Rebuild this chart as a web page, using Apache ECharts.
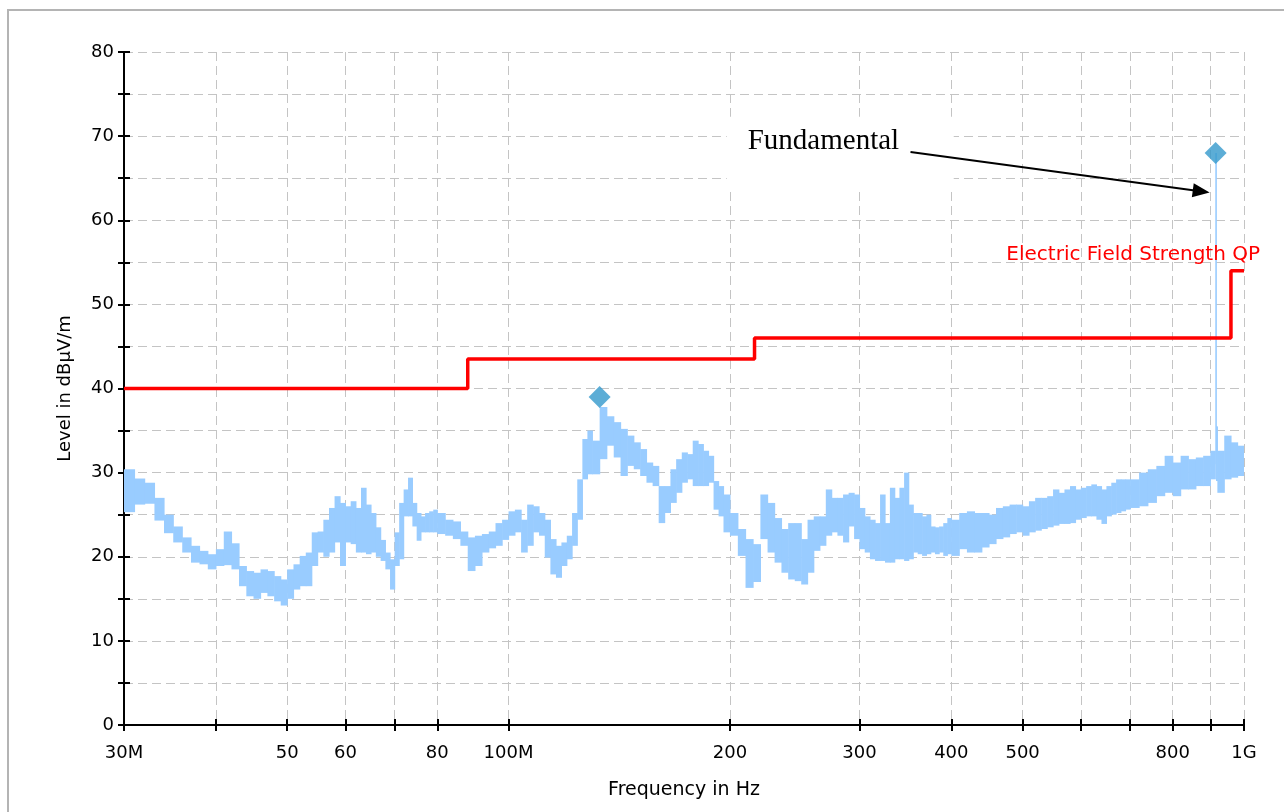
<!DOCTYPE html>
<html>
<head>
<meta charset="utf-8">
<title>Radiated emission scan</title>
<script src="https://cdn.jsdelivr.net/npm/echarts@6/dist/echarts.min.js"></script>
<style>
  html, body { margin: 0; padding: 0; background: #fff; }
  #box1 { width: 1284px; height: 812px; }
</style>
</head>
<body>
<div id="box1"></div>
<script>
// sweep, MHz -> dBuV/m. each slot holds the min and max of the trace in it
var traceFreq = [30, 31, 32, 33, 34, 35, 36, 37, 38, 39, 40, 41, 42, 43, 44, 45, 46, 47, 48, 49,
  50, 51, 52, 53, 54, 55, 56, 57, 58, 59, 60, 61, 62, 63, 64, 65, 66, 67, 68, 69,
  70, 71, 72, 73, 74, 75, 76, 77, 78, 79, 80, 82, 84, 86, 88, 90, 92, 94, 96, 98,
  100, 102, 104, 106, 108, 110, 112, 114, 116, 118, 120, 122, 124, 126, 128, 130,
  133, 136, 139, 142, 145, 148, 151, 154, 157, 160, 163, 166, 169, 172, 175, 178,
  181, 184, 187, 190, 193, 196, 200, 205, 210, 215, 220, 225, 230, 235, 240, 245,
  250, 255, 260, 265, 270, 275, 280, 285, 290, 295, 300, 305, 310, 315, 320, 325,
  330, 335, 340, 345, 350, 355, 360, 365, 370, 375, 380, 385, 390, 395, 400, 410,
  420, 430, 440, 450, 460, 470, 480, 490, 500, 510, 520, 530, 540, 550, 560, 570,
  580, 590, 600, 610, 620, 630, 640, 650, 660, 670, 680, 690, 700, 720, 740, 760,
  780, 800, 820, 840, 860, 880, 900, 914, 916, 920, 940, 960, 980, 1000];
var traceLow = [25.3, 26.2, 26.3, 24.3, 22.8, 21.7, 20.5, 19.3, 19.1, 18.5, 18.9, 19.0, 18.5, 16.5, 15.3, 15.0, 15.7, 15.3, 14.7, 14.2,
  15.0, 16.1, 16.5, 16.5, 18.9, 20.5, 20.0, 20.5, 21.7, 18.9, 21.7, 21.5, 20.5, 20.5, 20.3, 20.5, 20.0, 19.5, 18.5, 16.1,
  18.9, 19.7, 24.8, 24.8, 23.6, 21.9, 22.9, 22.9, 22.9, 22.9, 22.7, 22.5, 22.1, 21.3, 18.3, 18.9, 20.5, 21.0, 21.3, 22.0,
  22.5, 22.9, 20.5, 21.3, 22.9, 22.5, 19.9, 17.9, 17.5, 18.9, 19.7, 21.3, 24.4, 29.2, 29.8, 29.8,
  31.6, 33.2, 31.8, 29.6, 30.8, 30.4, 29.6, 28.8, 28.4, 24.0, 25.2, 26.4, 27.6, 28.8, 29.2, 28.4,
  28.4, 28.4, 28.8, 25.6, 24.8, 22.9, 22.5, 20.1, 16.3, 17.0, 22.1, 20.5, 19.3, 18.1, 17.3, 17.1,
  16.7, 18.1, 20.7, 21.3, 22.5, 22.9, 22.5, 21.7, 23.6, 22.1, 20.9, 20.5, 19.7, 19.5, 19.5, 19.3,
  19.3, 19.7, 19.7, 19.5, 19.7, 20.5, 20.3, 20.1, 20.3, 20.5, 20.3, 20.5, 20.1, 20.3, 20.1, 20.9,
  20.5, 20.5, 21.1, 21.5, 22.1, 22.3, 22.7, 22.9, 22.5, 22.9, 23.1, 23.3, 23.5, 23.7, 23.9, 23.9,
  24.0, 24.4, 24.6, 24.8, 24.8, 24.4, 23.9, 24.8, 25.0, 25.2, 25.4, 25.6, 25.8, 26.0, 26.4, 27.2,
  27.6, 27.2, 28.0, 28.0, 28.4, 28.4, 29.2, 31.0, 29.0, 27.6, 29.2, 29.4, 29.6, 29.6];
var traceHigh = [30.4, 29.3, 28.8, 27.0, 25.0, 23.6, 22.3, 21.3, 20.7, 20.3, 20.9, 23.0, 21.6, 18.9, 18.3, 18.1, 18.5, 18.3, 17.7, 17.3,
  18.5, 19.1, 20.1, 20.5, 22.9, 23.0, 24.4, 25.8, 27.2, 26.4, 26.0, 26.6, 25.8, 28.2, 26.2, 25.2, 23.5, 22.0, 20.5, 19.7,
  22.9, 26.4, 28.0, 29.4, 26.4, 25.2, 24.8, 25.2, 25.4, 25.6, 25.2, 24.4, 24.2, 23.0, 22.3, 22.5, 22.7, 23.0, 24.0, 24.4,
  25.4, 25.6, 24.4, 26.2, 26.0, 25.2, 24.4, 22.1, 21.3, 21.7, 22.5, 25.2, 29.2, 34.0, 35.0, 33.8,
  37.8, 36.7, 36.0, 35.2, 34.4, 33.6, 32.8, 31.2, 30.8, 28.4, 28.4, 30.4, 31.6, 32.4, 32.2, 33.8,
  33.4, 32.6, 32.0, 29.0, 28.4, 27.4, 25.2, 23.3, 22.1, 21.5, 27.4, 26.4, 24.6, 23.3, 24.0, 24.0,
  22.1, 24.4, 24.8, 24.8, 28.0, 27.0, 27.0, 27.4, 27.6, 27.4, 25.8, 24.8, 24.4, 24.0, 27.4, 24.0,
  28.2, 27.0, 28.2, 30.0, 26.2, 25.2, 25.2, 24.8, 25.0, 23.6, 23.5, 23.6, 24.0, 24.6, 24.4, 25.2,
  25.4, 25.2, 25.2, 25.0, 25.8, 26.0, 26.2, 26.2, 26.0, 26.6, 27.0, 27.0, 27.2, 28.0, 27.6, 28.0,
  28.4, 28.0, 28.2, 28.4, 28.6, 28.4, 28.0, 28.4, 28.8, 29.2, 29.2, 29.2, 29.2, 30.0, 30.4, 30.8,
  32.0, 31.2, 32.0, 31.6, 31.8, 32.0, 32.6, 68.0, 35.5, 32.6, 34.4, 33.6, 33.2, 33.2];

// quasi-peak limit line
var limitFreq = [30, 88, 216, 960, 1000];
var limitLevel = [40, 43.5, 46, 54, 54];

// marked peaks
var peakFreq = [133, 915];
var peakLevel = [39, 68];

var yTickStep = 5;
var xTicks = [30, 40, 50, 60, 70, 80, 100, 200, 300, 400, 500, 600, 700, 800, 900, 1000];
var xLabels = [30, 50, 60, 80, 100, 200, 300, 400, 500, 800, 1000];
var xLabelText = { 30: '30M', 100: '100M', 1000: '1G' };

// annotation anchors (freq, level)
var noteBoxAt = [198, 72.3];
var arrowFrom = [352, 68.1];
var arrowTo = [898, 63.3];
var limitLabelAt = [1000, 54];

var tickFont = 'DejaVu Sans';
var black = '#000';
var gridDash = { color: '#c4c4c4', type: [9, 5], width: 1 };

var myChart1 = echarts.init(document.getElementById('box1'));

function renderTrace(params, api) {
  var i = params.dataIndex;
  var next = i < traceFreq.length - 1 ? traceFreq[i + 1] : traceFreq[i];
  var a = api.coord([api.value(0), api.value(2)]);
  var b = api.coord([next, api.value(1)]);
  return {
    type: 'rect',
    shape: { x: a[0], y: a[1], width: Math.max(b[0] - a[0] + 0.6, 1.6), height: b[1] - a[1] },
    style: { fill: '#99ccff' }
  };
}

var option = {
  backgroundColor: '#fff',
  animation: false,
  grid: { left: 124, right: 40, top: 52, bottom: 87 },
  xAxis: [{
    type: 'log',
    logBase: 10,
    min: 30,
    max: 1000,
    position: 'bottom',
    name: 'Frequency in Hz',
    nameLocation: 'middle',
    nameGap: 56,
    nameTextStyle: { color: black, fontFamily: tickFont, fontSize: 19 },
    axisLine: { onZero: false, lineStyle: { color: black, width: 2 } },
    axisTick: { customValues: xTicks, length: 6, lineStyle: { color: black, width: 2 } },
    axisLabel: {
      customValues: xLabels,
      margin: 19,
      color: black,
      fontFamily: tickFont,
      fontSize: 18,
      formatter: function (v) { return xLabelText[v] || String(v); }
    },
    splitLine: { show: true, lineStyle: gridDash },
    minorTick: { show: false },
    minorSplitLine: { show: false }
  }, {
    // inner half of the crossing ticks
    type: 'log',
    logBase: 10,
    min: 30,
    max: 1000,
    position: 'bottom',
    axisLine: { show: false },
    axisTick: { customValues: xTicks, inside: true, length: 6, lineStyle: { color: black, width: 2 } },
    axisLabel: { show: false },
    splitLine: { show: false }
  }],
  yAxis: [{
    type: 'value',
    min: 0,
    max: 80,
    interval: yTickStep,
    position: 'left',
    name: 'Level in dBμV/m',
    nameLocation: 'middle',
    nameGap: 50,
    nameTextStyle: { color: black, fontFamily: tickFont, fontSize: 18 },
    axisLine: { show: true, lineStyle: { color: black, width: 2 } },
    axisTick: { show: true, length: 6, lineStyle: { color: black, width: 2 } },
    axisLabel: {
      margin: 10,
      color: black,
      fontFamily: tickFont,
      fontSize: 18,
      formatter: function (v) { return v % 10 === 0 ? String(v) : ''; }
    },
    splitLine: { show: true, lineStyle: gridDash }
  }, {
    type: 'value',
    min: 0,
    max: 80,
    interval: yTickStep,
    position: 'left',
    axisLine: { show: false },
    axisTick: { show: true, inside: true, length: 6, lineStyle: { color: black, width: 2 } },
    axisLabel: { show: false },
    splitLine: { show: false }
  }],
  series: [{
    name: 'trace',
    type: 'custom',
    renderItem: renderTrace,
    clip: true,
    encode: { x: 0, y: [1, 2] },
    data: traceFreq.map(function (f, i) { return [f, traceLow[i], traceHigh[i]]; }),
    z: 2
  }, {
    name: 'Electric Field Strength QP',
    type: 'line',
    step: 'end',
    showSymbol: false,
    lineStyle: { color: '#ff0000', width: 3.5 },
    data: limitFreq.map(function (f, i) { return [f, limitLevel[i]]; }),
    z: 3
  }, {
    name: 'peaks',
    type: 'scatter',
    symbol: 'diamond',
    symbolSize: 22,
    itemStyle: { color: '#3399cc' },
    data: peakFreq.map(function (f, i) { return [f, peakLevel[i]]; }),
    z: 4
  }]
};

myChart1.setOption(option);

// annotations placed from data anchors
var toPx = function (p) { return myChart1.convertToPixel({ xAxisIndex: 0, yAxisIndex: 0 }, p); };
var box = toPx(noteBoxAt);
var p0 = toPx(arrowFrom);
var p1 = toPx(arrowTo);
var lab = toPx(limitLabelAt);

var dx = p1[0] - p0[0], dy = p1[1] - p0[1];
var len = Math.sqrt(dx * dx + dy * dy);
var ux = dx / len, uy = dy / len;
var headLen = 17, headW = 7;
var bx = p1[0] - ux * headLen, by = p1[1] - uy * headLen;

myChart1.setOption({
  graphic: [{
    type: 'rect',
    z: -10,
    silent: true,
    shape: { x: 8, y: 10, width: 1300, height: 830 },
    style: { fill: 'transparent', stroke: '#b4b4b4', lineWidth: 2 }
  }, {
    type: 'rect',
    z: 1,
    silent: true,
    shape: { x: box[0], y: box[1], width: 227, height: 71 },
    style: { fill: '#fff' }
  }, {
    type: 'text',
    z: 5,
    x: box[0] + 21,
    y: box[1] + 25,
    style: { text: 'Fundamental', fontFamily: 'Liberation Serif', fontSize: 29, fill: black, verticalAlign: 'middle' }
  }, {
    type: 'line',
    z: 5,
    shape: { x1: p0[0], y1: p0[1], x2: bx + ux * 2, y2: by + uy * 2 },
    style: { stroke: black, lineWidth: 2 }
  }, {
    type: 'polygon',
    z: 5,
    shape: { points: [[p1[0], p1[1]], [bx - uy * headW, by + ux * headW], [bx + uy * headW, by - ux * headW]] },
    style: { fill: black }
  }, {
    type: 'text',
    z: 5,
    x: lab[0] + 16,
    y: lab[1] - 16,
    style: { text: 'Electric Field Strength QP', fontFamily: tickFont, fontSize: 20, fill: '#ff0000', align: 'right', verticalAlign: 'middle' }
  }]
});
</script>
</body>
</html>
